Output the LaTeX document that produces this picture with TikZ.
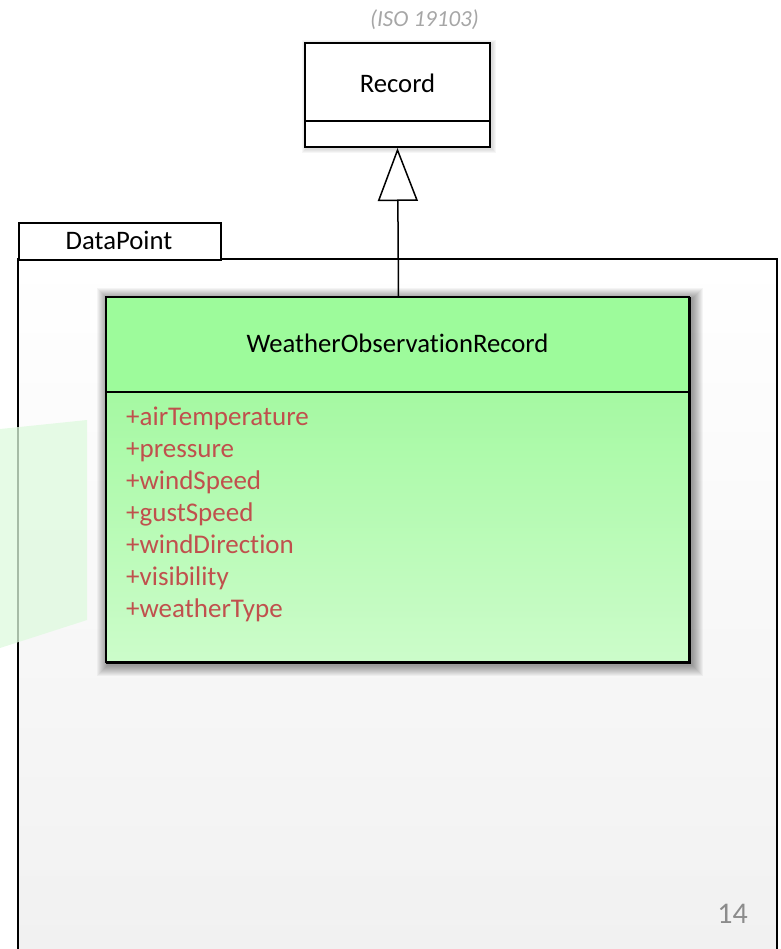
\documentclass[tikz,border=0pt]{standalone}
\usepackage{fontspec}
\setmainfont{Carlito}[RawFeature=-liga]
\usetikzlibrary{arrows.meta}
\definecolor{attrred}{RGB}{192,80,77}
\definecolor{titlegreen}{RGB}{157,251,155}
\definecolor{attrtop}{RGB}{165,249,162}
\definecolor{attrbot}{RGB}{204,252,202}
\definecolor{pkgbot}{RGB}{241,241,241}
\definecolor{decogreen}{RGB}{222,250,222}
\tikzset{
  umlbox/.style={draw=black, line width=2pt, inner sep=0pt},
  bigtxt/.style={font=\fontsize{26.7}{32}\selectfont, inner sep=0pt},
  attrtxt/.style={font=\fontsize{27}{32}\selectfont, text=attrred, inner sep=0pt, anchor=base west},
  shadowlayer/.style={fill=black, opacity=#1},
}
\begin{document}
\begin{tikzpicture}[x=1pt,y=-1pt]
\useasboundingbox (0,0) rectangle (780,949);
% package
\shade[top color=white, bottom color=pkgbot, middle color=white!50!pkgbot] (18,259) rectangle (777,949);
\draw[line width=2pt] (18,949) -- (18,259) -- (777,259) -- (777,949);
\node[umlbox, fill=white, minimum width=202pt, minimum height=37pt, anchor=north west] (tab) at (18,222) {};
\node[bigtxt, anchor=base] (tablabel) at (119,250) {DataPoint};
% decoration
\fill[decogreen, opacity=0.75] (0,429) -- (87,420) -- (87,620) -- (0,648) -- cycle;
% Record shadow
\foreach \k in {1,...,4}{
  \fill[shadowlayer=0.035] (305+1-\k,43+1-\k) rectangle (490+2+\k,147+2+\k);
}
\node[umlbox, fill=white, minimum width=185pt, minimum height=104pt] (rec) at (397.5,95) {};
\draw[line width=1.5pt] (305,121) -- (490,121);
\node[bigtxt, anchor=base] (reclabel) at (397.5,93) {Record};
\node[font=\fontsize{23}{28}\selectfont\itshape, text={rgb,255:red,166;green,166;blue,166}, inner sep=0pt, anchor=base] (iso) at (424.5,27) {(ISO 19103)};
% WeatherObservationRecord shadow
\foreach \k in {1,...,11}{
  \fill[shadowlayer=0.04] (106+2-\k,297+2-\k) rectangle (689+3+\k,662+3+\k);
}
\node[umlbox, minimum width=583pt, minimum height=365pt, anchor=north west] (wor) at (106,297) {};
\fill[titlegreen] (106,297) rectangle (689,392);
\shade[top color=attrtop, bottom color=attrbot] (106,392) rectangle (689,662);
\draw[line width=2pt] (106,297) rectangle (689,662);
\draw[line width=1.5pt] (106,392) -- (689,392);
\node[bigtxt, anchor=base] (title) at (397.5,352) {WeatherObservationRecord};
\foreach \i/\t in {0/airTemperature,1/pressure,2/windSpeed,3/gustSpeed,4/windDirection,5/visibility,6/weatherType}{
  \node[attrtxt] (attr\i) at (126,425+32*\i) {+\t};
}
% generalisation
\draw[line width=1.5pt, -{Triangle[open, length=53pt, width=40pt, line width=1.5pt]}] (wor.north) -- (rec.south);
% page number
\node[font=\fontsize{30}{36}\selectfont, text={rgb,255:red,140;green,140;blue,140}, inner sep=0pt, anchor=base east] (pagenum) at (748,923) {14};
\end{tikzpicture}
\end{document}
